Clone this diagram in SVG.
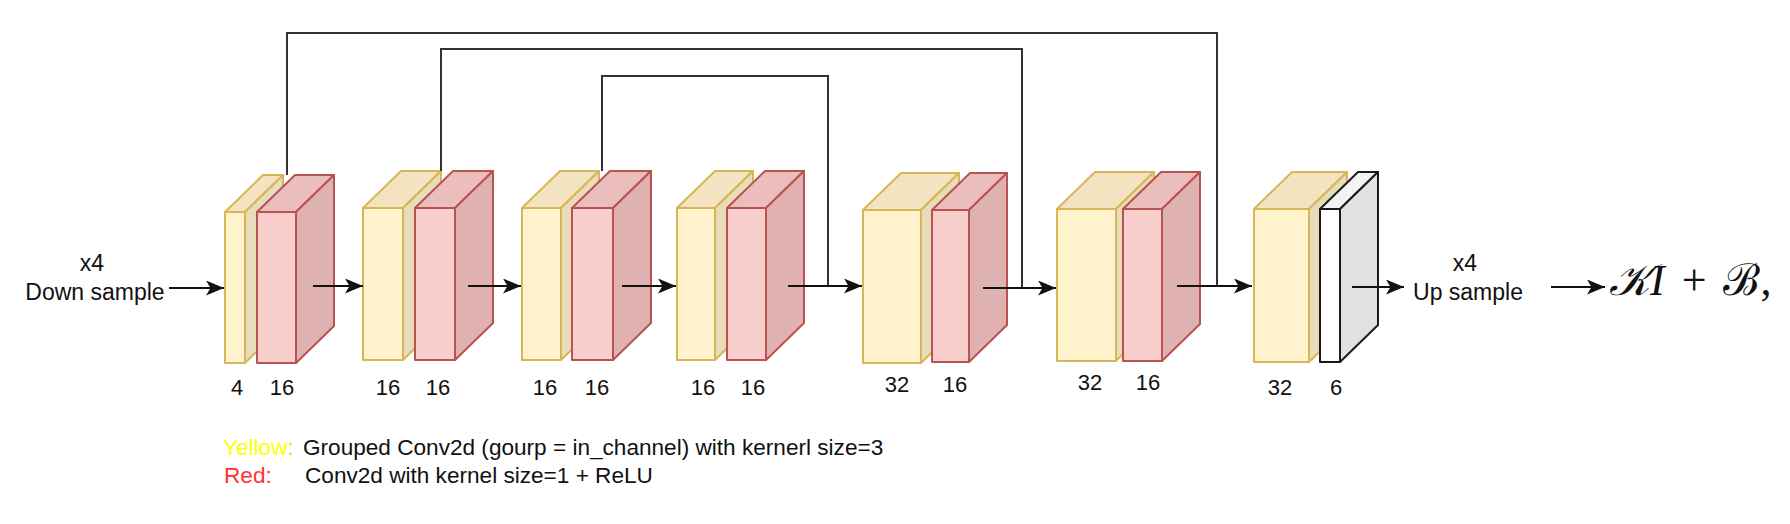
<svg xmlns="http://www.w3.org/2000/svg" width="1790" height="524" viewBox="0 0 1790 524">
<style>
.t{font-family:"Liberation Sans",Arial,sans-serif;font-size:23px;fill:#111;}
.l{font-family:"Liberation Sans",Arial,sans-serif;font-size:22.6px;fill:#111;}
.n{font-family:"Liberation Sans",Arial,sans-serif;font-size:22px;fill:#111;text-anchor:middle;}
.m{font-family:"Liberation Serif","DejaVu Serif",serif;font-size:44px;fill:#111;word-spacing:6px;}
.yf{fill:#fff2cc;stroke:#d6b656;stroke-width:2;stroke-linejoin:round;}
.yt{fill:#f4e3c1;stroke:#d6b656;stroke-width:2;stroke-linejoin:round;}
.ys{fill:#e8dcba;stroke:#d6b656;stroke-width:2;stroke-linejoin:round;}
.rf{fill:#f8cecc;stroke:#b85450;stroke-width:2;stroke-linejoin:round;}
.rt{fill:#ebbdbc;stroke:#b85450;stroke-width:2;stroke-linejoin:round;}
.rs{fill:#dfb1b0;stroke:#b85450;stroke-width:2;stroke-linejoin:round;}
.wf{fill:#ffffff;stroke:#1a1a1a;stroke-width:2;stroke-linejoin:round;}
.wt{fill:#f3f3f3;stroke:#1a1a1a;stroke-width:2;stroke-linejoin:round;}
.ws{fill:#e1e1e1;stroke:#1a1a1a;stroke-width:2;stroke-linejoin:round;}
.a{fill:none;stroke:#111;stroke-width:2;marker-end:url(#ah);}
.s{fill:none;stroke:#333;stroke-width:2;}
</style>
<defs>
<marker id="ah" markerUnits="userSpaceOnUse" markerWidth="19" markerHeight="15" refX="18" refY="7.5" orient="auto">
<path d="M0,0 L18,7.5 L0,15 L4.5,7.5 Z" fill="#111"/>
</marker>
</defs>
<rect width="1790" height="524" fill="#ffffff"/>

<!-- blocks: front (x,y,w,h), depth dx=38 dy=37 -->
<g id="y1">
<rect class="yf" x="225" y="212" width="20" height="151"/>
<path class="yt" d="M225,212 L263,175 L283,175 L245,212 Z"/>
<path class="ys" d="M245,212 L283,175 L283,326 L245,363 Z"/>
</g>
<g id="r1">
<rect class="rf" x="257" y="212" width="39" height="151"/>
<path class="rt" d="M257,212 L295,175 L334,175 L296,212 Z"/>
<path class="rs" d="M296,212 L334,175 L334,326 L296,363 Z"/>
</g>

<g id="y2">
<rect class="yf" x="363" y="208" width="40" height="152"/>
<path class="yt" d="M363,208 L401,171 L441,171 L403,208 Z"/>
<path class="ys" d="M403,208 L441,171 L441,323 L403,360 Z"/>
</g>
<g id="r2">
<rect class="rf" x="415" y="208" width="40" height="152"/>
<path class="rt" d="M415,208 L453,171 L493,171 L455,208 Z"/>
<path class="rs" d="M455,208 L493,171 L493,323 L455,360 Z"/>
</g>

<g id="y3">
<rect class="yf" x="522" y="208" width="39" height="152"/>
<path class="yt" d="M522,208 L560,171 L599,171 L561,208 Z"/>
<path class="ys" d="M561,208 L599,171 L599,323 L561,360 Z"/>
</g>
<g id="r3">
<rect class="rf" x="572" y="208" width="41" height="152"/>
<path class="rt" d="M572,208 L610,171 L651,171 L613,208 Z"/>
<path class="rs" d="M613,208 L651,171 L651,323 L613,360 Z"/>
</g>

<g id="y4">
<rect class="yf" x="677" y="208" width="38" height="152"/>
<path class="yt" d="M677,208 L715,171 L753,171 L715,208 Z"/>
<path class="ys" d="M715,208 L753,171 L753,323 L715,360 Z"/>
</g>
<g id="r4">
<rect class="rf" x="727" y="208" width="39" height="152"/>
<path class="rt" d="M727,208 L765,171 L804,171 L766,208 Z"/>
<path class="rs" d="M766,208 L804,171 L804,323 L766,360 Z"/>
</g>

<g id="y5">
<rect class="yf" x="863" y="210" width="58" height="153"/>
<path class="yt" d="M863,210 L901,173 L959,173 L921,210 Z"/>
<path class="ys" d="M921,210 L959,173 L959,326 L921,363 Z"/>
</g>
<g id="r5">
<rect class="rf" x="932" y="210" width="37" height="152"/>
<path class="rt" d="M932,210 L970,173 L1007,173 L969,210 Z"/>
<path class="rs" d="M969,210 L1007,173 L1007,325 L969,362 Z"/>
</g>

<g id="y6">
<rect class="yf" x="1057" y="209" width="59" height="152"/>
<path class="yt" d="M1057,209 L1095,172 L1154,172 L1116,209 Z"/>
<path class="ys" d="M1116,209 L1154,172 L1154,324 L1116,361 Z"/>
</g>
<g id="r6">
<rect class="rf" x="1123" y="209" width="39" height="152"/>
<path class="rt" d="M1123,209 L1161,172 L1200,172 L1162,209 Z"/>
<path class="rs" d="M1162,209 L1200,172 L1200,324 L1162,361 Z"/>
</g>

<g id="y7">
<rect class="yf" x="1254" y="209" width="55" height="153"/>
<path class="yt" d="M1254,209 L1292,172 L1347,172 L1309,209 Z"/>
<path class="ys" d="M1309,209 L1347,172 L1347,325 L1309,362 Z"/>
</g>
<g id="w7">
<rect class="wf" x="1320" y="209" width="20" height="153"/>
<path class="wt" d="M1320,209 L1358,172 L1378,172 L1340,209 Z"/>
<path class="ws" d="M1340,209 L1378,172 L1378,325 L1340,362 Z"/>
</g>

<g id="connectors">
<path class="s" d="M287,175 L287,33 L1217,33 L1217,286"/>
<path class="s" d="M441,171 L441,49 L1022,49 L1022,288"/>
<path class="s" d="M602,171 L602,76 L828,76 L828,286"/>
<path class="a" d="M169,288 L224,288"/>
<path class="a" d="M313,286 L363,286"/>
<path class="a" d="M468,286 L521,286"/>
<path class="a" d="M622,286 L676,286"/>
<path class="a" d="M788,286 L862,286"/>
<path class="a" d="M983,288 L1056,288"/>
<path class="a" d="M1177,286 L1252,286"/>
<path class="a" d="M1352,287 L1404,287"/>
<path class="a" d="M1551,287 L1605,287"/>
</g>

<g id="input">
<text class="t" x="92" y="271" text-anchor="middle">x4</text>
<text class="t" x="95" y="300" text-anchor="middle">Down sample</text>
</g>
<g id="output">
<text class="t" x="1465" y="271" text-anchor="middle">x4</text>
<text class="t" x="1468" y="300" text-anchor="middle">Up sample</text>
</g>
<g id="formula">
<text class="m" x="1609" y="295"><tspan font-style="italic">𝒦I</tspan> + <tspan>ℬ</tspan>,</text>
</g>

<g id="labels">
<text class="n" x="237" y="395">4</text>
<text class="n" x="282" y="395">16</text>
<text class="n" x="388" y="395">16</text>
<text class="n" x="438" y="395">16</text>
<text class="n" x="545" y="395">16</text>
<text class="n" x="597" y="395">16</text>
<text class="n" x="703" y="395">16</text>
<text class="n" x="753" y="395">16</text>
<text class="n" x="897" y="392">32</text>
<text class="n" x="955" y="392">16</text>
<text class="n" x="1090" y="390">32</text>
<text class="n" x="1148" y="390">16</text>
<text class="n" x="1280" y="395">32</text>
<text class="n" x="1336" y="395">6</text>
</g>

<g id="legend">
<text class="l" x="223" y="455"><tspan fill="#ffff00">Yellow</tspan><tspan fill="#e8e000">:</tspan></text>
<text class="l" x="303" y="455">Grouped Conv2d (gourp = in_channel) with kernerl size=3</text>
<text class="l" x="224" y="483" style="fill:#ff3333">Red:</text>
<text class="l" x="305" y="483">Conv2d with kernel size=1 + ReLU</text>
</g>
</svg>
